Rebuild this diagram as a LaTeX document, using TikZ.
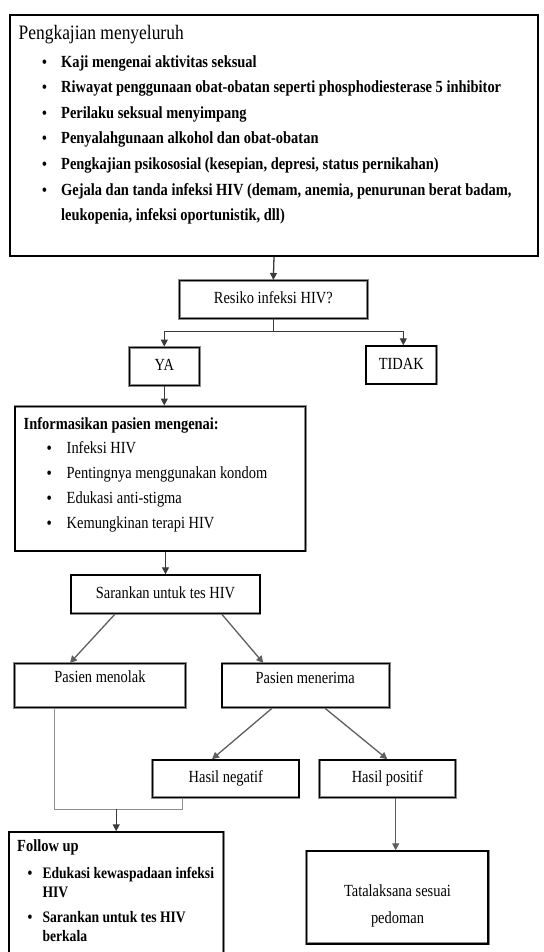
\documentclass[tikz,border=0pt]{standalone}
\usepackage{fontspec}
\setmainfont{Liberation Serif}[FakeStretch=0.85]
\usetikzlibrary{arrows.meta,calc}
\definecolor{cdark}{HTML}{3A3A3A}
\definecolor{cmid}{HTML}{5E5E5E}
\definecolor{cgray}{HTML}{8E8E8E}
\begin{document}
\begin{tikzpicture}[x=1pt,y=-1pt,
  box/.style={draw=black,line width=1.5pt,rectangle,inner sep=0pt,
    preaction={draw=black!45,line width=2.8pt}},
  txt/.style={inner sep=0pt,text height=11.5pt,text depth=3pt,font=\fontsize{17}{20}\selectfont},
  btxt/.style={txt,font=\fontsize{17}{20}\selectfont\bfseries},
  stxt/.style={txt,font=\fontsize{16}{19}\selectfont\bfseries},
  bul/.style={inner sep=0pt,text height=11.5pt,text depth=3pt,font=\fontsize{16}{19}\selectfont\bfseries},
  arr/.style={-{Triangle[length=7pt,width=7pt]},line width=1.3pt,draw=cdark},
  line/.style={line width=1.3pt,draw=cdark}]
\path[use as bounding box] (0,0) rectangle (543,952);
\clip (0,0) rectangle (543,952);

% ---------- top box ----------
\node[box,minimum width=528pt,minimum height=241pt] (top) at (274,135.5) {};
\node[txt,anchor=west,font=\fontsize{20.5}{24}\selectfont,text height=13.5pt,text depth=4pt] (topt) at (18.5,35) {Pengkajian menyeluruh};
\node[bul] (topb1) at (44.5,63) {\textbullet};
\node[btxt,anchor=west] (top1) at (61,63) {Kaji mengenai aktivitas seksual};
\node[bul] (topb2) at (44.5,88.5) {\textbullet};
\node[btxt,anchor=west] (top2) at (61,88.5) {Riwayat penggunaan obat-obatan seperti phosphodiesterase 5 inhibitor};
\node[bul] (topb3) at (44.5,114) {\textbullet};
\node[btxt,anchor=west] (top3) at (61,114) {Perilaku seksual menyimpang};
\node[bul] (topb4) at (44.5,139.5) {\textbullet};
\node[btxt,anchor=west] (top4) at (61,139.5) {Penyalahgunaan alkohol dan obat-obatan};
\node[bul] (topb5) at (44.5,165.3) {\textbullet};
\node[btxt,anchor=west] (top5) at (61,165.3) {Pengkajian psikososial (kesepian, depresi, status pernikahan)};
\node[bul] (topb6) at (44.5,191) {\textbullet};
\node[btxt,anchor=west] (top6) at (61,191) {Gejala dan tanda infeksi HIV (demam, anemia, penurunan berat badam,};
\node[btxt,anchor=west] (top7) at (61,216.5) {leukopenia, infeksi oportunistik, dll)};

% ---------- decision ----------
\node[box,minimum width=188pt,minimum height=37.6pt,txt] (resiko) at (273.3,299.5) {Resiko infeksi HIV?};
\node[box,minimum width=70pt,minimum height=38.4pt,txt] (ya) at (164.3,366.5) {YA};
\node[box,minimum width=70.7pt,minimum height=38pt,txt] (tidak) at (401.3,365) {TIDAK};

% ---------- info box ----------
\node[box,minimum width=290.7pt,minimum height=144.7pt] (info) at (160.3,478.6) {};
\node[btxt,anchor=west] (infot) at (23.5,425) {Informasikan pasien mengenai:};
\node[bul] (infob1) at (49.3,449) {\textbullet};
\node[txt,anchor=west] (info1) at (66.5,449) {Infeksi HIV};
\node[bul] (infob2) at (49.3,474) {\textbullet};
\node[txt,anchor=west] (info2) at (66.5,474) {Pentingnya menggunakan kondom};
\node[bul] (infob3) at (49.3,499.5) {\textbullet};
\node[txt,anchor=west] (info3) at (66.5,499.5) {Edukasi anti-stigma};
\node[bul] (infob4) at (49.3,524) {\textbullet};
\node[txt,anchor=west] (info4) at (66.5,524) {Kemungkinan terapi HIV};

% ---------- test ----------
\node[box,minimum width=189pt,minimum height=38.3pt,txt] (saran) at (165.5,594.2) {Sarankan untuk tes HIV};
\node[box,minimum width=170.6pt,minimum height=43.8pt] (tolak) at (100,685.6) {};
\node[txt] (tolakt) at (100,678.5) {Pasien menolak};
\node[box,minimum width=167.3pt,minimum height=43.8pt] (terima) at (305.7,685.6) {};
\node[txt] (terimat) at (305.2,678.8) {Pasien menerima};
\node[box,minimum width=146.3pt,minimum height=37.3pt,txt] (neg) at (225.8,778.6) {Hasil negatif};
\node[box,minimum width=136pt,minimum height=37.3pt,txt] (pos) at (387.3,778.6) {Hasil positif};

% ---------- follow up ----------
\node[box,minimum width=214.3pt,minimum height=140pt] (follow) at (116.2,902) {};
\node[btxt,anchor=west] (followt) at (17,847.5) {Follow up};
\node[bul] (followb1) at (30,874) {\textbullet};
\node[stxt,anchor=west] (follow1) at (42.3,874) {Edukasi kewaspadaan infeksi};
\node[stxt,anchor=west] (follow2) at (42.3,893) {HIV};
\node[bul] (followb2) at (30,918) {\textbullet};
\node[stxt,anchor=west] (follow3) at (42.3,918) {Sarankan untuk tes HIV};
\node[stxt,anchor=west] (follow4) at (42.3,937.5) {berkala};

% ---------- treatment ----------
\node[box,minimum width=181.8pt,minimum height=92.7pt] (tata) at (397.3,897.4) {};
\node[txt] (tata1) at (397.5,892) {Tatalaksana sesuai};
\node[txt] (tata2) at (397.5,919.5) {pedoman};

% ---------- connectors ----------
\draw[arr] (top.south) -- (resiko.north);
\draw[line] (resiko.south) -- ++(0,12.4) coordinate (br);
\draw[arr] (br) -| (ya.north);
\draw[arr] (br) -| ([xshift=2pt]tidak.north);
\draw[arr] (ya.south) -- (info.north -| ya.south);
\draw[arr] (info.south -| saran.north) -- (saran.north);
\draw[arr,draw=cmid] ([xshift=-50.5pt]saran.south) -- ([xshift=-30pt]tolak.north);
\draw[arr,draw=cmid] ([xshift=56.2pt]saran.south) -- ([xshift=-42.4pt]terima.north);
\draw[arr,draw=cmid] ([xshift=-33.7pt]terima.south) -- ([xshift=-13.8pt]neg.north);
\draw[arr,draw=cmid] ([xshift=19.3pt]terima.south) -- (pos.north);
\draw[line,draw=cgray] ([xshift=-45.7pt]tolak.south) -- ++(0,101) coordinate (jn)
  -| ([xshift=-43.1pt]neg.south);
\draw[arr] (jn -| follow.north) -- (follow.north);
\draw[arr,draw=cmid] ([xshift=8.4pt]pos.south) -- ([xshift=-1.6pt]tata.north);
\end{tikzpicture}
\end{document}
